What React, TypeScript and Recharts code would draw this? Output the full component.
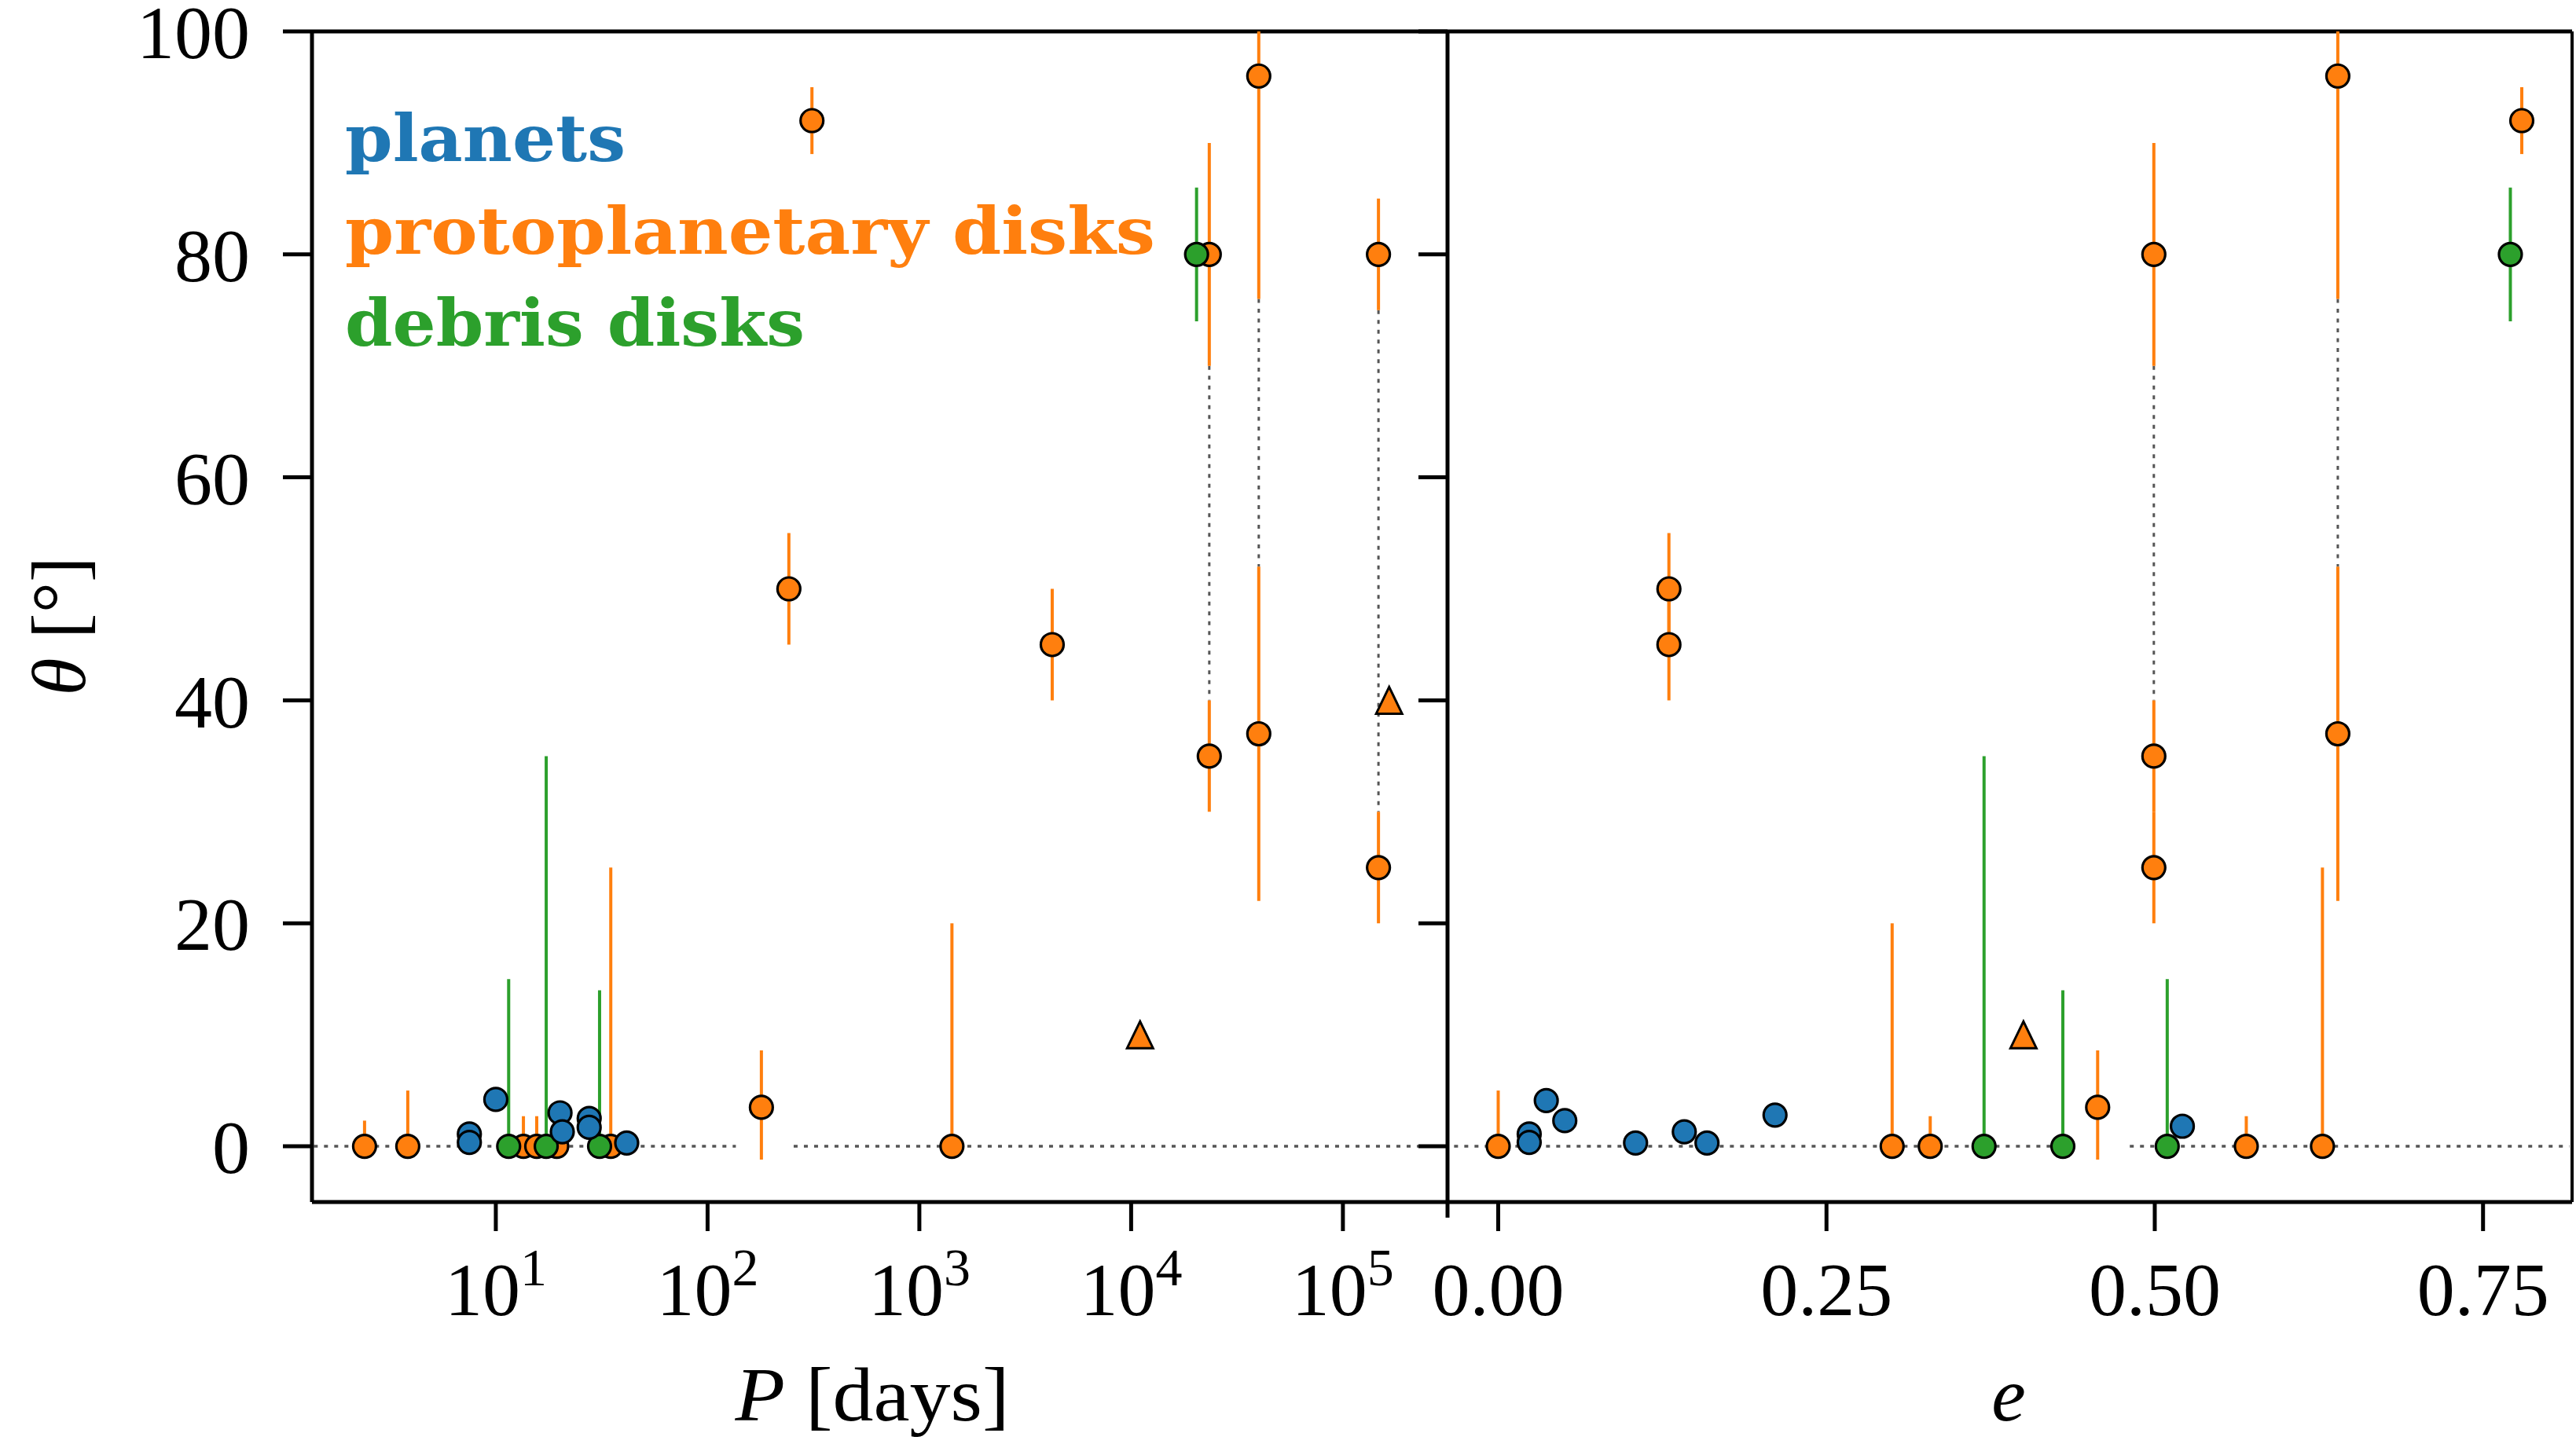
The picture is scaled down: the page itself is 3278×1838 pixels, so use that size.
import React from "react";
import { ScatterChart, Scatter, XAxis, YAxis, ErrorBar, ReferenceLine } from "recharts";

const BLUE = "#1f77b4";
const ORANGE = "#ff7f0e";
const GREEN = "#2ca02c";
const DOT = "#555";
const FONT = "'Liberation Serif', 'Times New Roman', serif";
const LEGEND_FONT = "'DejaVu Serif', serif";

const W = 3278;
const H = 1838;

// shared y axis (misalignment angle)
const THETA_MIN = -5;
const THETA_MAX = 100;
const thetaTicks = [0, 20, 40, 60, 80, 100];

// left panel: orbital period P [days]
const P_MIN = 1.355;
const P_MAX = 311900;
const periodTicks = [10, 100, 1000, 10000, 100000];

const planetPeriod = [7.5, 7.5, 10.0, 20.1, 20.6, 27.6, 27.6, 41.5];
const planetPeriodTheta = [1.1, 0.35, 4.2, 3.0, 1.3, 2.5, 1.7, 0.3];

const ppdPeriod = [2.4, 3.84, 13.5, 15.6, 19.4, 34.9, 179.5, 242, 311, 1425, 4240, 23390, 23390, 40060, 40060, 147200, 147200];
const ppdPeriodTheta = [0, 0, 0, 0, 0, 0, 3.5, 50, 92, 0, 45, 80, 35, 96, 37, 80, 25];
const ppdPeriodErrLo = [0, 0, 0, 0, 0, 0, 4.7, 5, 3, 0, 5, 10, 5, 20, 15, 5, 5];
const ppdPeriodErrHi = [2.3, 5, 2.7, 2.7, 0, 25, 5.1, 5, 3, 20, 5, 10, 5, 4, 15, 5, 5];

const debrisPeriod = [11.5, 17.3, 30.9, 20370];
const debrisPeriodTheta = [0, 0, 0, 80];
const debrisPeriodErrLo = [0, 0, 0, 6];
const debrisPeriodErrHi = [15, 35, 14, 6];

const limitPeriod = [11020, 165300];
const limitPeriodTheta = [10, 40];

// dotted links between two solutions of one system
const periodLinkX = [23390, 40060, 147200];
const periodLinkFrom = [70, 76, 75];
const periodLinkTo = [40, 52, 30];
const periodZeroGap = [136, 255];

// right panel: eccentricity e
const E_MIN = -0.0386;
const E_MAX = 0.8178;
const eccTicks = [0, 0.25, 0.5, 0.75];

const planetEcc = [0.0236, 0.0236, 0.0366, 0.0507, 0.1046, 0.1417, 0.159, 0.2108, 0.521];
const planetEccTheta = [1.1, 0.35, 4.1, 2.3, 0.3, 1.3, 0.3, 2.8, 1.8];

const ppdEcc = [0, 0.3, 0.329, 0.4565, 0.5697, 0.6277, 0.13, 0.13, 0.4993, 0.4993, 0.4993, 0.6394, 0.6394, 0.7795];
const ppdEccTheta = [0, 0, 0, 3.5, 0, 0, 50, 45, 80, 35, 25, 96, 37, 92];
const ppdEccErrLo = [0, 0, 0, 4.7, 0, 0, 5, 5, 10, 5, 5, 20, 15, 3];
const ppdEccErrHi = [5, 20, 2.7, 5.1, 2.7, 25, 5, 5, 10, 5, 5, 4, 15, 3];

const debrisEcc = [0.37, 0.43, 0.5095, 0.7708];
const debrisEccTheta = [0, 0, 0, 80];
const debrisEccErrLo = [0, 0, 0, 6];
const debrisEccErrHi = [35, 14, 15, 6];

const limitEcc = [0.4];
const limitEccTheta = [10];

const eccLinkX = [0.4993, 0.6394];
const eccLinkFrom = [70, 76];
const eccLinkTo = [40, 52];
const eccZeroGap = [0.438, 0.481];

const rows = (xs: number[], ys: number[], lo?: number[], hi?: number[]) =>
  xs.map((x, i) => ({ x, y: ys[i], err: [lo ? lo[i] : 0, hi ? hi[i] : 0] }));

const circle = (fill: string) => (p: any) => (
  <circle cx={p.cx} cy={p.cy} r={14.5} fill={fill} stroke="#000" strokeWidth={3.2} />
);

const triangle = (p: any) => (
  <path
    d={`M${p.cx},${p.cy - 17}L${p.cx + 16.5},${p.cy + 17}L${p.cx - 16.5},${p.cy + 17}Z`}
    fill={ORANGE}
    stroke="#000"
    strokeWidth={3}
  />
);

const LogTick = (p: any) => {
  const exp = Math.round(Math.log10(p.payload.value));
  return (
    <text x={p.x} y={p.y} dy="0.71em" textAnchor="middle" fontFamily={FONT} fontSize={96} fill="#000">
      10<tspan dy={-38} fontSize={68}>{exp}</tspan>
    </text>
  );
};

const axisLine = { stroke: "#000", strokeWidth: 5 };
const tickLine = { stroke: "#000", strokeWidth: 5 };
const tickText = { fill: "#000", fontSize: 96, fontFamily: FONT };

const errBar = (color: string) => (
  <ErrorBar dataKey="err" direction="y" width={0} stroke={color} strokeWidth={4} />
);

function PeriodPanel() {
  return (
    <ScatterChart width={W} height={H} margin={{ top: 40, right: W - 1842, bottom: H - 1530 - 200, left: 397 - 200 }}>
      <XAxis
        dataKey="x"
        type="number"
        scale="log"
        domain={[P_MIN, P_MAX]}
        allowDataOverflow
        ticks={periodTicks}
        interval={0}
        height={200}
        tickSize={37}
        tickMargin={39}
        axisLine={axisLine}
        tickLine={tickLine}
        tick={(p: any) => <LogTick {...p} />}
      />
      <YAxis
        dataKey="y"
        type="number"
        domain={[THETA_MIN, THETA_MAX]}
        allowDataOverflow
        ticks={thetaTicks}
        interval={0}
        width={200}
        tickSize={37}
        tickMargin={42}
        axisLine={axisLine}
        tickLine={tickLine}
        tick={tickText}
      />
      <ReferenceLine y={THETA_MAX} stroke="#000" strokeWidth={5} ifOverflow="visible" />
      <ReferenceLine
        segment={[{ x: P_MIN * 1.02, y: 0 }, { x: periodZeroGap[0], y: 0 }]}
        stroke={DOT}
        strokeWidth={3.5}
        strokeDasharray="5 8"
      />
      <ReferenceLine
        segment={[{ x: periodZeroGap[1], y: 0 }, { x: P_MAX * 0.99, y: 0 }]}
        stroke={DOT}
        strokeWidth={3.5}
        strokeDasharray="5 8"
      />
      {periodLinkX.map((x, i) => (
        <ReferenceLine
          key={i}
          segment={[{ x, y: periodLinkFrom[i] }, { x, y: periodLinkTo[i] }]}
          stroke={DOT}
          strokeWidth={3}
          strokeDasharray="5 7.5"
        />
      ))}
      <Scatter
        data={rows(ppdPeriod, ppdPeriodTheta, ppdPeriodErrLo, ppdPeriodErrHi)}
        shape={circle(ORANGE)}
        isAnimationActive={false}
      >
        {errBar(ORANGE)}
      </Scatter>
      <Scatter data={rows(limitPeriod, limitPeriodTheta)} shape={triangle} isAnimationActive={false} />
      <Scatter
        data={rows(debrisPeriod, debrisPeriodTheta, debrisPeriodErrLo, debrisPeriodErrHi)}
        shape={circle(GREEN)}
        isAnimationActive={false}
      >
        {errBar(GREEN)}
      </Scatter>
      <Scatter data={rows(planetPeriod, planetPeriodTheta)} shape={circle(BLUE)} isAnimationActive={false} />
    </ScatterChart>
  );
}

function EccPanel() {
  return (
    <ScatterChart width={W} height={H} margin={{ top: 40, right: W - 3273, bottom: H - 1530 - 200, left: 1842 - 60 }}>
      <XAxis
        dataKey="x"
        type="number"
        domain={[E_MIN, E_MAX]}
        allowDataOverflow
        ticks={eccTicks}
        interval={0}
        height={200}
        tickSize={37}
        tickMargin={39}
        axisLine={axisLine}
        tickLine={tickLine}
        tick={tickText}
        tickFormatter={(v: number) => v.toFixed(2)}
      />
      <YAxis
        dataKey="y"
        type="number"
        domain={[THETA_MIN, THETA_MAX]}
        allowDataOverflow
        ticks={thetaTicks}
        interval={0}
        width={60}
        tickSize={37}
        axisLine={axisLine}
        tickLine={tickLine}
        tick={() => <g />}
      />
      <ReferenceLine y={THETA_MAX} stroke="#000" strokeWidth={5} ifOverflow="visible" />
      <ReferenceLine x={E_MAX} stroke="#000" strokeWidth={4} ifOverflow="visible" />
      <ReferenceLine
        segment={[{ x: E_MIN, y: THETA_MIN }, { x: E_MIN, y: THETA_MIN - 1.4 }]}
        stroke="#000"
        strokeWidth={5}
        ifOverflow="visible"
      />
      <ReferenceLine
        segment={[{ x: E_MIN + 0.005, y: 0 }, { x: eccZeroGap[0], y: 0 }]}
        stroke={DOT}
        strokeWidth={3.5}
        strokeDasharray="5 8"
      />
      <ReferenceLine
        segment={[{ x: eccZeroGap[1], y: 0 }, { x: E_MAX - 0.002, y: 0 }]}
        stroke={DOT}
        strokeWidth={3.5}
        strokeDasharray="5 8"
      />
      {eccLinkX.map((x, i) => (
        <ReferenceLine
          key={i}
          segment={[{ x, y: eccLinkFrom[i] }, { x, y: eccLinkTo[i] }]}
          stroke={DOT}
          strokeWidth={3}
          strokeDasharray="5 7.5"
        />
      ))}
      <Scatter
        data={rows(ppdEcc, ppdEccTheta, ppdEccErrLo, ppdEccErrHi)}
        shape={circle(ORANGE)}
        isAnimationActive={false}
      >
        {errBar(ORANGE)}
      </Scatter>
      <Scatter data={rows(limitEcc, limitEccTheta)} shape={triangle} isAnimationActive={false} />
      <Scatter
        data={rows(debrisEcc, debrisEccTheta, debrisEccErrLo, debrisEccErrHi)}
        shape={circle(GREEN)}
        isAnimationActive={false}
      >
        {errBar(GREEN)}
      </Scatter>
      <Scatter data={rows(planetEcc, planetEccTheta)} shape={circle(BLUE)} isAnimationActive={false} />
    </ScatterChart>
  );
}

export default function App() {
  const layer: React.CSSProperties = { position: "absolute", left: 0, top: 0 };
  return (
    <div style={{ position: "absolute", left: 0, top: 0, width: W, height: H, background: "#fff" }}>
      <div style={layer}>
        <PeriodPanel />
      </div>
      <div style={layer}>
        <EccPanel />
      </div>
      <svg width={W} height={H} style={{ ...layer, pointerEvents: "none" }}>
        <g fontFamily={LEGEND_FONT} fontWeight="bold" fontSize={83}>
          <text x={439} y={205} fill={BLUE} textLength={357} lengthAdjust="spacingAndGlyphs">planets</text>
          <text x={439} y={323} fill={ORANGE} textLength={1031} lengthAdjust="spacingAndGlyphs">protoplanetary disks</text>
          <text x={439} y={440} fill={GREEN} textLength={585} lengthAdjust="spacingAndGlyphs">debris disks</text>
        </g>
        <g fontFamily={FONT} fontSize={98} fill="#000">
          <text x={1110} y={1808} textAnchor="middle" textLength={349} lengthAdjust="spacingAndGlyphs">
            <tspan fontStyle="italic">P</tspan> [days]
          </text>
          <text x={2556} y={1808} textAnchor="middle" fontStyle="italic">e</text>
          <text x={108} y={797} textAnchor="middle" transform="rotate(-90 108 797)">
            <tspan fontStyle="italic">θ</tspan> [°]
          </text>
        </g>
      </svg>
    </div>
  );
}
